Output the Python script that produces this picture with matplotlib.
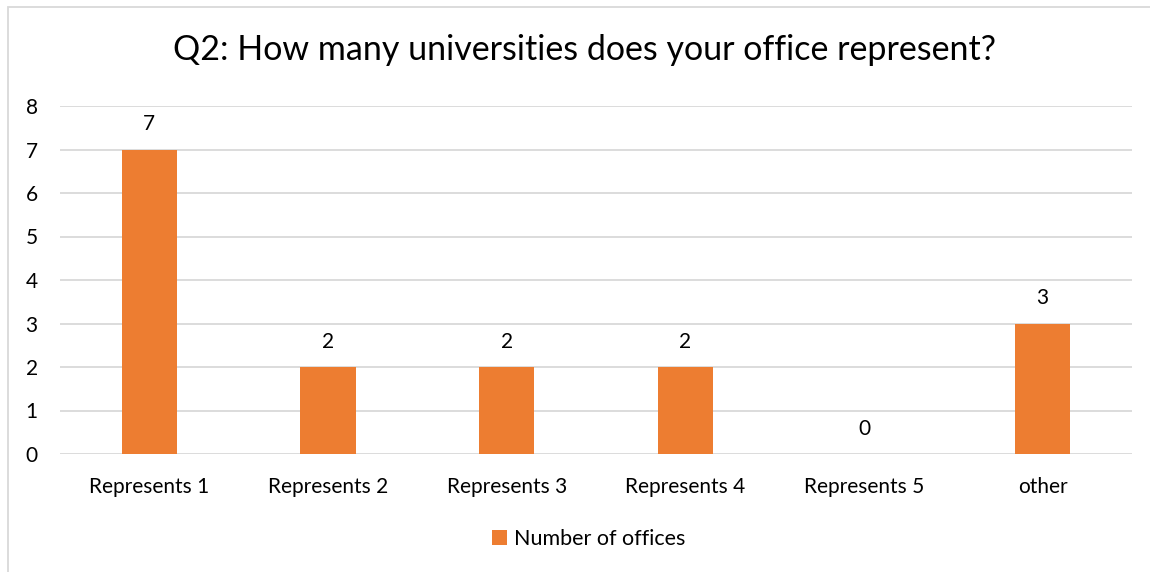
import matplotlib.pyplot as plt
from matplotlib.patches import Rectangle

categories = ['Represents 1', 'Represents 2', 'Represents 3', 'Represents 4', 'Represents 5', 'other']
offices = [7, 2, 2, 2, 0, 3]
yticks = [0, 1, 2, 3, 4, 5, 6, 7, 8]

orange = '#ED7D31'
grid_grey = '#D9D9D9'
text_col = '#000000'

plt.rcParams['font.family'] = ['Lato', 'DejaVu Sans']

fig = plt.figure(figsize=(11.5, 5.72), dpi=100)

# chart frame
fig.patches.append(Rectangle((8 / 1150, -0.1), 1.2, 1 - 7 / 572 + 0.1,
                             transform=fig.transFigure, fill=False,
                             edgecolor=grid_grey, linewidth=1.3))

ax = fig.add_axes([60 / 1150, 1 - 454 / 572, (1132 - 60) / 1150, (454 - 106) / 572])
x = range(len(categories))
bars = ax.bar(x, offices, width=0.31, color=orange, zorder=3, label='Number of offices')

for xi, v in zip(x, offices):
    ax.annotate(str(v), (xi, v), xytext=(0, 11), textcoords='offset points',
                ha='center', va='bottom', fontsize=15, color=text_col)

ax.set_xlim(-0.5, len(categories) - 0.5)
ax.set_ylim(0, 8)
ax.set_yticks(yticks)
ax.yaxis.grid(True, color=grid_grey, linewidth=1.3, zorder=0)
ax.set_xticks(list(x))
ax.set_xticklabels(categories)
ax.tick_params(axis='both', length=0, labelsize=15, colors=text_col)
ax.tick_params(axis='y', pad=16)
ax.tick_params(axis='x', pad=16.5)
for s in ax.spines.values():
    s.set_visible(False)

fig.text(0.508, 1 - 50 / 572, 'Q2: How many universities does your office represent?',
         ha='center', va='center', fontsize=24.5, color=text_col)

fig.legend(handles=[bars], loc='center', bbox_to_anchor=(0.512, 1 - 539 / 572),
           frameon=False, fontsize=15.5, handlelength=0.7, handleheight=0.7,
           handletextpad=0.3)

plt.savefig('out.png')
